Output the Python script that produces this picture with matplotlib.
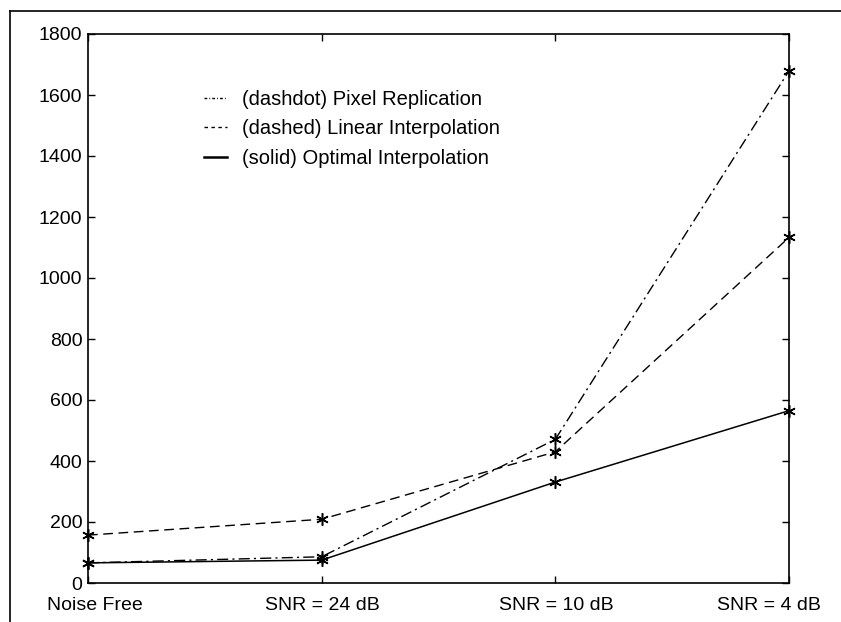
import matplotlib
matplotlib.use("Agg")
import matplotlib.pyplot as plt
from matplotlib.lines import Line2D

plt.rcParams['font.family'] = ['Liberation Sans', 'DejaVu Sans']

conditions = ["Noise Free", "SNR = 24 dB", "SNR = 10 dB", "SNR = 4 dB"]
pixel_replication = [66, 86, 471, 1679]
linear_interp = [157, 209, 430, 1133]
optimal_interp = [66, 75, 331, 565]
y_ticks = [0, 200, 400, 600, 800, 1000, 1200, 1400, 1600, 1800]

W, H = 841, 622
fig = plt.figure(figsize=(W / 100, H / 100), dpi=100)
ax = fig.add_axes([88 / W, 1 - 583 / H, (789 - 88) / W, (583 - 34) / H])

x = list(range(len(conditions)))
star = (6, 2, 0)
common = dict(color='black', marker=star, ms=9, mew=1.1, clip_on=False)
ax.plot(x, pixel_replication, lw=1.0, ls=(0, (8, 3, 1.5, 3)),
        label='(dashdot) Pixel Replication', **common)
ax.plot(x, linear_interp, lw=1.0, ls=(0, (7, 4)),
        label='(dashed) Linear Interpolation', **common)
ax.plot(x, optimal_interp, lw=1.1, ls='-',
        label='(solid) Optimal Interpolation', **common)

ax.set_xlim(0, 3)
ax.set_ylim(0, 1800)
ax.set_xticks(x)
ax.set_xticklabels([])
ax.set_yticks(y_ticks)
ax.tick_params(direction='in', length=5, labelsize=14, top=True, right=True,
               width=1.0)
ax.tick_params(axis='y', pad=4)
for s in ax.spines.values():
    s.set_linewidth(1.2)

# category labels under the axis, end labels pulled inward
label_shift = [7, 1, 1, -20]
for xi, name, dx in zip(x, conditions, label_shift):
    ax.annotate(name, xy=(xi, 0), xycoords=('data', 'axes fraction'),
                xytext=(dx * 0.72, -22 * 0.72), textcoords='offset points',
                ha='center', va='center', fontsize=14)

handles = [
    Line2D([], [], color='black', lw=1.0, ls=(0, (2, 1.5, 0.6, 1.5))),
    Line2D([], [], color='black', lw=1.0, ls=(0, (2.5, 2.5))),
    Line2D([], [], color='black', lw=1.8, ls='-'),
]
ax.legend(handles, [l.get_label() for l in ax.get_lines()], frameon=False,
          fontsize=14.5, handlelength=1.15, handletextpad=0.75, labelspacing=0.52,
          loc='upper left', bbox_to_anchor=((204 - 88) / 701, 1 - (90 - 34) / 549),
          borderaxespad=0, borderpad=0)

# page frame lines along the top and left edges
fig.add_artist(Line2D([10 / W, 1], [1 - 11 / H, 1 - 11 / H],
                      transform=fig.transFigure, color='black', lw=1.2))
fig.add_artist(Line2D([10 / W, 10 / W], [0, 1 - 11 / H],
                      transform=fig.transFigure, color='black', lw=1.2))

fig.savefig("out.png", dpi=100)
